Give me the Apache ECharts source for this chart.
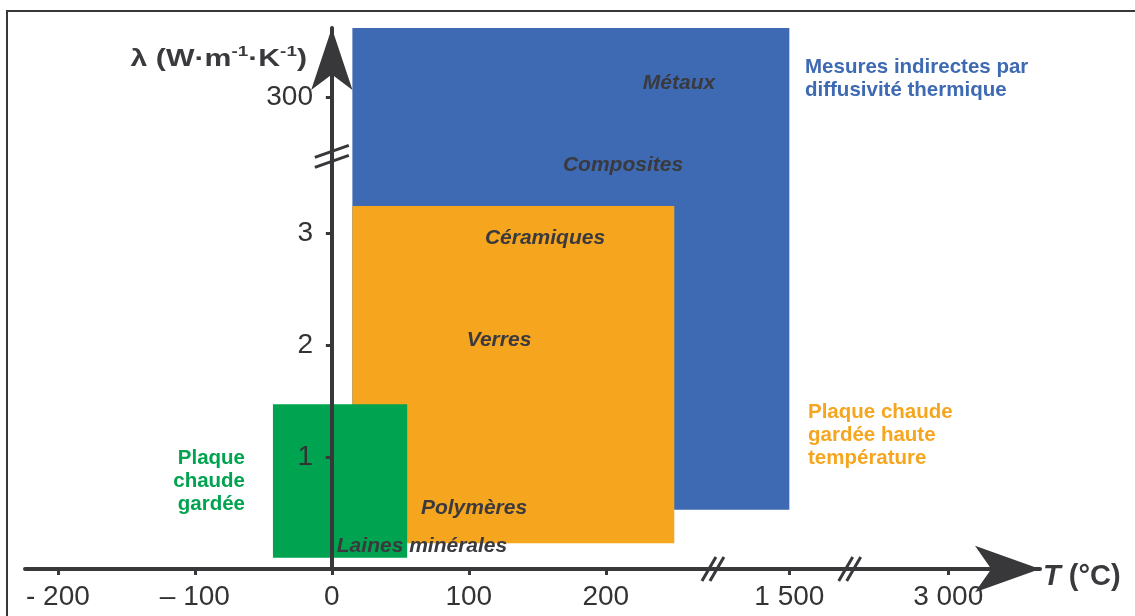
<!DOCTYPE html>
<html>
<head>
<meta charset="utf-8">
<script src="https://cdn.jsdelivr.net/npm/echarts@6/dist/echarts.min.js"></script>
<style>
  html, body { margin: 0; padding: 0; background: #fff; }
  #chart { width: 1135px; height: 616px; }
</style>
</head>
<body>
<div id="chart"></div>
<script>
// domaines de mesure (T en °C, λ en W·m-1·K-1)
const methods = ['Mesures indirectes par\ndiffusivité thermique', 'Plaque chaude\ngardée haute\ntempérature', 'Plaque\nchaude\ngardée'];
const tMin = [15, 15, -43];
const tMax = [1500, 250, 55];
const lambdaMin = [0.53, 0.23, 0.1];
const lambdaMax = [430, 3.24, 1.47];

const materials = ['Métaux', 'Composites', 'Céramiques', 'Verres', 'Polymères', 'Laines minérales'];

const tTicks = [-200, -100, 0, 100, 200, 1500, 3000];
const tTickLabels = ['- 200', '– 100', '0', '100', '200', '1 500', '3 000'];
const lambdaTicks = [1, 2, 3, 300];
const lambdaTickLabels = ['1', '2', '3', '300'];
const tBreaks = [670, 2070];
const lambdaBreaks = [80];

// échelles schématiques avec coupures : valeur -> position sur l'axe
const tKnots = [[-200, -2], [250, 2.5], [1500, 3.34], [3000, 4.5]];
const lambdaKnots = [[0, 0], [3.5, 3.5], [300, 4.21], [430, 4.83]];
function piecewise(knots, v) {
  for (let i = 1; i < knots.length; i++) {
    if (v <= knots[i][0] || i === knots.length - 1) {
      const [a0, b0] = knots[i - 1];
      const [a1, b1] = knots[i];
      return b0 + (v - a0) / (a1 - a0) * (b1 - b0);
    }
  }
}
const tPos = v => piecewise(tKnots, v);
const lPos = v => piecewise(lambdaKnots, v);

const AX = '#38383b';
const TXT = '#3a3a3e';
const FONT = '"Liberation Sans", Arial, Helvetica, sans-serif';
const methodColors = ['#3d6ab2', '#f6a51e', '#00a34f'];

function labelFor(ticks, labels, pos, fn) {
  const i = ticks.findIndex(t => Math.abs(fn(t) - pos) < 1e-6);
  return i >= 0 ? labels[i] : '';
}

const chart = echarts.init(document.getElementById('chart'));

// positions des étiquettes (mise en page, px)
const materialLayout = [[679, 83], [623, 165], [545, 238], [499, 340], [474, 508], [422, 546]];
const methodLayout = [
  { x: 805, y: 56, align: 'left' },
  { x: 808, y: 401, align: 'left' },
  { x: 245, y: 447, align: 'right' }
];

const graphics = [
  {
    type: 'rect', silent: true, z: 0,
    shape: { x: 7, y: 11, width: 1200, height: 700 },
    style: { fill: null, stroke: AX, lineWidth: 2 }
  },
  {
    type: 'text', z: 100, x: 307, y: 59, scaleX: 1.26,
    style: {
      text: '{b|λ (W·m}{s|-1}{b|·K}{s|-1}{b|)}',
      align: 'right', verticalAlign: 'middle',
      rich: {
        b: { font: 'bold 24px ' + FONT, fill: TXT, lineHeight: 30 },
        s: { font: 'bold 15px ' + FONT, fill: TXT, verticalAlign: 'top', lineHeight: 30 }
      }
    }
  },
  {
    type: 'text', z: 100, x: 1043, y: 577,
    style: {
      text: '{i|T}{b| (°C)}',
      align: 'left', verticalAlign: 'middle',
      rich: {
        i: { font: 'italic bold 29px ' + FONT, fill: TXT },
        b: { font: 'bold 29px ' + FONT, fill: TXT }
      }
    }
  }
];
materials.forEach((m, i) => {
  graphics.push({
    type: 'text', z: 100, x: materialLayout[i][0], y: materialLayout[i][1],
    style: { text: m, font: 'italic bold 21px ' + FONT, fill: TXT, align: 'center', verticalAlign: 'middle' }
  });
});
methods.forEach((m, i) => {
  graphics.push({
    type: 'text', z: 100, x: methodLayout[i].x, y: methodLayout[i].y,
    style: {
      text: m, font: 'bold 20.5px ' + FONT, fill: methodColors[i],
      align: methodLayout[i].align, verticalAlign: 'top', lineHeight: 23
    }
  });
});

chart.setOption({
  animation: false,
  grid: { left: 25, right: 95, top: 28, bottom: 47, outerBoundsMode: 'none' },
  xAxis: {
    type: 'value', min: -2.24, max: 5.17, z: 10,
    splitLine: { show: false },
    axisLine: {
      onZero: true,
      lineStyle: { color: AX, width: 4 },
      symbol: ['none', 'arrow'], symbolSize: [35, 65]
    },
    axisTick: { customValues: tTicks.map(tPos), length: 6, lineStyle: { color: AX, width: 3 } },
    axisLabel: {
      customValues: tTicks.map(tPos),
      formatter: v => labelFor(tTicks, tTickLabels, v, tPos),
      fontSize: 28, color: '#333', fontFamily: FONT, margin: 14
    }
  },
  yAxis: {
    type: 'value', min: 0, max: 4.83, z: 10,
    splitLine: { show: false },
    axisLine: {
      onZero: true,
      lineStyle: { color: AX, width: 4 },
      symbol: ['none', 'arrow'], symbolSize: [31, 62]
    },
    axisTick: { customValues: lambdaTicks.map(lPos), length: 6, lineStyle: { color: AX, width: 3 } },
    axisLabel: {
      customValues: lambdaTicks.map(lPos),
      formatter: v => labelFor(lambdaTicks, lambdaTickLabels, v, lPos),
      // les étiquettes restent au bord de la grille : on les ramène sur l'axe en 0
      fontSize: 28, color: '#333', fontFamily: FONT, margin: -288, padding: [8, 0, 0, 0]
    }
  },
  series: [
    {
      type: 'custom', z: 2,
      data: methods.map((m, i) => [tMin[i], tMax[i], lambdaMin[i], lambdaMax[i]]),
      renderItem(params, api) {
        const p0 = api.coord([tPos(api.value(0)), lPos(api.value(3))]);
        const p1 = api.coord([tPos(api.value(1)), lPos(api.value(2))]);
        return {
          type: 'rect',
          shape: { x: p0[0], y: p0[1], width: p1[0] - p0[0], height: p1[1] - p0[1] },
          style: { fill: methodColors[params.dataIndex] }
        };
      }
    },
    {
      // marques de coupure « // » sur les axes
      type: 'custom', z: 20, silent: true,
      data: tBreaks.map(t => [tPos(t), 0, 0]).concat(lambdaBreaks.map(l => [0, lPos(l), 1])),
      renderItem(params, api) {
        const c = api.coord([api.value(0), api.value(1)]);
        const onY = api.value(2) === 1;
        const lines = onY
          ? [[-17, 1, 17, -11], [-17, 11, 17, -1]]
          : [[-11, 12, 3, -12], [-3, 12, 11, -12]];
        return {
          type: 'group',
          children: lines.map(l => ({
            type: 'line',
            shape: { x1: c[0] + l[0], y1: c[1] + l[1], x2: c[0] + l[2], y2: c[1] + l[3] },
            style: { stroke: AX, lineWidth: 3 }
          }))
        };
      }
    }
  ],
  graphic: graphics
});
</script>
</body>
</html>
